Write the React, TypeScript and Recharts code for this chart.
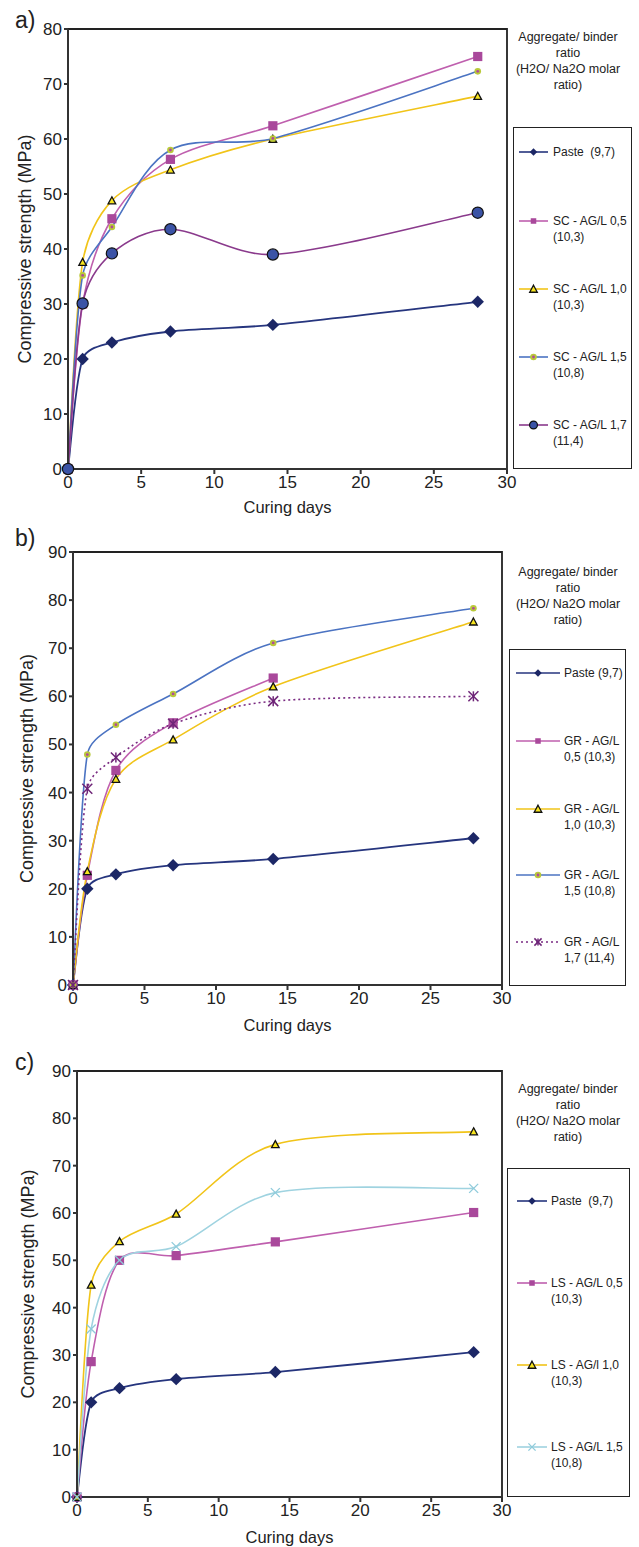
import React from "react";
import { LineChart, Line, XAxis, YAxis, ReferenceArea } from "recharts";

// curing days (shared by every panel)
const days = [0, 1, 3, 7, 14, 28];
const xTicks = [0, 5, 10, 15, 20, 25, 30];
const yTicksA = [0, 10, 20, 30, 40, 50, 60, 70, 80];
const yTicksBC = [0, 10, 20, 30, 40, 50, 60, 70, 80, 90];

// a) SC
const pasteA = [0, 20, 23, 25, 26.2, 30.4];
const sc05 = [0, 30, 45.5, 56.3, 62.4, 75];
const sc10 = [0, 37.6, 48.8, 54.4, 60, 67.8];
const sc15 = [0, 35.2, 44, 58, 60.1, 72.3];
const sc17 = [0, 30.1, 39.2, 43.6, 39, 46.6];

// b) GR
const pasteB = [0, 20, 23, 24.9, 26.2, 30.5];
const gr05 = [0, 22.8, 44.6, 54.5, 63.8, null];
const gr10 = [0, 23.6, 42.8, 51, 62, 75.5];
const gr15 = [0, 47.9, 54.1, 60.5, 71.1, 78.3];
const gr17 = [0, 40.8, 47.3, 54.3, 59, 60];

// c) LS
const pasteC = [0, 20, 23, 24.9, 26.4, 30.6];
const ls05 = [0, 28.6, 50, 51, 53.9, 60.1];
const ls10 = [0, 44.8, 54, 59.8, 74.5, 77.2];
const ls15 = [0, 35.5, 50, 52.9, 64.3, 65.2];

const legendTitle = ["Aggregate/ binder", "ratio", "(H2O/ Na2O molar", "ratio)"];

const FONT = "'Liberation Sans', Arial, Helvetica, sans-serif";
const W = 639;
const TITLE_FONT = 12.5;
const ITEM_FONT = 12;

type Kind = "diamond" | "square" | "triangle" | "smalldot" | "circle" | "star" | "cross";

interface Serie {
  key: string;
  values: (number | null)[];
  label: string[];
  color: string;
  kind: Kind;
  width?: number;
  dash?: string;
}

const NAVY = "#26357e";
const MAGENTA = "#bf5fae";
const YELLOW = "#f1c419";
const BLUE = "#4b73c2";
const PURPLE = "#8a3a8c";
const LIGHTBLUE = "#9fd3e0";

const seriesA: Serie[] = [
  { key: "paste", values: pasteA, label: ["Paste  (9,7)"], color: NAVY, kind: "diamond", width: 1.8 },
  { key: "sc05", values: sc05, label: ["SC - AG/L 0,5", "(10,3)"], color: MAGENTA, kind: "square" },
  { key: "sc10", values: sc10, label: ["SC - AG/L 1,0", "(10,3)"], color: YELLOW, kind: "triangle" },
  { key: "sc15", values: sc15, label: ["SC - AG/L 1,5", "(10,8)"], color: BLUE, kind: "smalldot" },
  { key: "sc17", values: sc17, label: ["SC - AG/L 1,7", "(11,4)"], color: PURPLE, kind: "circle" },
];

const seriesB: Serie[] = [
  { key: "paste", values: pasteB, label: ["Paste (9,7)"], color: NAVY, kind: "diamond", width: 1.8 },
  { key: "gr05", values: gr05, label: ["GR - AG/L", "0,5 (10,3)"], color: MAGENTA, kind: "square" },
  { key: "gr10", values: gr10, label: ["GR - AG/L", "1,0 (10,3)"], color: YELLOW, kind: "triangle" },
  { key: "gr15", values: gr15, label: ["GR - AG/L", "1,5 (10,8)"], color: BLUE, kind: "smalldot" },
  { key: "gr17", values: gr17, label: ["GR - AG/L", "1,7 (11,4)"], color: "#7a2b82", kind: "star", dash: "2 3" },
];

const seriesC: Serie[] = [
  { key: "paste", values: pasteC, label: ["Paste  (9,7)"], color: NAVY, kind: "diamond", width: 1.8 },
  { key: "ls05", values: ls05, label: ["LS - AG/L 0,5", "(10,3)"], color: MAGENTA, kind: "square" },
  { key: "ls10", values: ls10, label: ["LS - AG/l 1,0", "(10,3)"], color: YELLOW, kind: "triangle" },
  { key: "ls15", values: ls15, label: ["LS - AG/L 1,5", "(10,8)"], color: LIGHTBLUE, kind: "cross" },
];

// smoothed line like the spreadsheet one: Catmull-Rom through the points,
// with the control arms kept shorter than the segment they sit on
const ARM_LIMIT = 0.35;
const smoothCurve = (context: any) => {
  let pts: number[][] = [];
  const arm = (dx: number, dy: number, segLen: number) => {
    const len = Math.hypot(dx, dy);
    const max = segLen * ARM_LIMIT;
    if (len <= max || len === 0) return [dx, dy];
    return [(dx * max) / len, (dy * max) / len];
  };
  return {
    areaStart() {},
    areaEnd() {},
    lineStart() {
      pts = [];
    },
    point(x: number, y: number) {
      pts.push([+x, +y]);
    },
    lineEnd() {
      const n = pts.length;
      if (!n) return;
      context.moveTo(pts[0][0], pts[0][1]);
      for (let i = 0; i < n - 1; i++) {
        const p0 = pts[Math.max(0, i - 1)];
        const p1 = pts[i];
        const p2 = pts[i + 1];
        const p3 = pts[Math.min(n - 1, i + 2)];
        const seg = Math.hypot(p2[0] - p1[0], p2[1] - p1[1]);
        const a1 = arm((p2[0] - p0[0]) / 6, (p2[1] - p0[1]) / 6, seg);
        const a2 = arm((p3[0] - p1[0]) / 6, (p3[1] - p1[1]) / 6, seg);
        context.bezierCurveTo(p1[0] + a1[0], p1[1] + a1[1], p2[0] - a2[0], p2[1] - a2[1], p2[0], p2[1]);
      }
    },
  };
};

function Marker({ kind, cx, cy, legend }: { kind: Kind; cx: number; cy: number; legend?: boolean }) {
  const s = legend ? 0.6 : 1;
  switch (kind) {
    case "diamond": {
      const r = 6.2 * s;
      return <polygon points={`${cx},${cy - r} ${cx + r},${cy} ${cx},${cy + r} ${cx - r},${cy}`} fill="#1c2766" />;
    }
    case "square": {
      const r = 4.6 * s;
      return <rect x={cx - r} y={cy - r} width={2 * r} height={2 * r} fill="#a9489b" />;
    }
    case "triangle": {
      const r = 3.8;
      return (
        <polygon
          points={`${cx},${cy - r} ${cx + r},${cy + r * 0.85} ${cx - r},${cy + r * 0.85}`}
          fill="#f7e51e"
          stroke="#111"
          strokeWidth={1.3}
        />
      );
    }
    case "smalldot":
      return (
        <g>
          <circle cx={cx} cy={cy} r={3.3} fill="#b9c93a" />
          <circle cx={cx} cy={cy} r={1.4} fill="#b04a9a" />
        </g>
      );
    case "circle":
      return <circle cx={cx} cy={cy} r={5.6 * (legend ? 0.7 : 1)} fill="#3b53a6" stroke="#111" strokeWidth={1.2} />;
    case "star": {
      const r = legend ? 3.6 : 5;
      return (
        <g stroke="#6e2477" strokeWidth={1.5}>
          <line x1={cx - r} y1={cy - r} x2={cx + r} y2={cy + r} />
          <line x1={cx - r} y1={cy + r} x2={cx + r} y2={cy - r} />
          <line x1={cx} y1={cy - r} x2={cx} y2={cy + r} />
        </g>
      );
    }
    case "cross": {
      const r = legend ? 3.6 : 4.5;
      return (
        <g stroke="#8fcbdb" strokeWidth={1.3}>
          <line x1={cx - r} y1={cy - r} x2={cx + r} y2={cy + r} />
          <line x1={cx - r} y1={cy + r} x2={cx + r} y2={cy - r} />
        </g>
      );
    }
  }
  return null;
}

interface PanelGeom {
  letter: string;
  top: number;
  height: number;
  plotTop: number;
  plotBottom: number;
  plotLeft: number;
  plotRight: number;
  yMax: number;
  yTicks: number[];
  xLabelBase: number;
  yLabelX: number;
  letterY: number;
  titleTop: number;
  box: { l: number; t: number; r: number; b: number };
  items: number[];
  lineX1: number;
  lineX2: number;
  textX: number;
}

const geomA: PanelGeom = {
  letter: "a)", top: 0, height: 520, plotTop: 29, plotBottom: 469, plotLeft: 68, plotRight: 507,
  yMax: 80, yTicks: yTicksA, xLabelBase: 513, yLabelX: 25, letterY: 20, titleTop: 29,
  box: { l: 513, t: 127, r: 632, b: 469 }, items: [152, 221, 289, 357, 425], lineX1: 519, lineX2: 548, textX: 553,
};
const geomB: PanelGeom = {
  letter: "b)", top: 520, height: 520, plotTop: 552, plotBottom: 985, plotLeft: 73, plotRight: 502,
  yMax: 90, yTicks: yTicksBC, xLabelBase: 1031, yLabelX: 27, letterY: 538, titleTop: 564,
  box: { l: 509, t: 649, r: 626, b: 986 }, items: [673, 741, 809, 875, 942], lineX1: 516, lineX2: 560, textX: 564,
};
const geomC: PanelGeom = {
  letter: "c)", top: 1040, height: 507, plotTop: 1071, plotBottom: 1497, plotLeft: 77, plotRight: 502,
  yMax: 90, yTicks: yTicksBC, xLabelBase: 1543, yLabelX: 28, letterY: 1062, titleTop: 1081,
  box: { l: 507, t: 1168, r: 630, b: 1497 }, items: [1201, 1283, 1365, 1447], lineX1: 517, lineX2: 547, textX: 551,
};

const Y_AXIS_W = 46;

function LegendBlock({ g, series }: { g: PanelGeom; series: Serie[] }) {
  return (
    <>
      <div
        style={{
          position: "absolute",
          left: 568 - 80,
          top: g.titleTop,
          width: 160,
          textAlign: "center",
          fontSize: TITLE_FONT,
          lineHeight: "16px",
          color: "#222",
        }}
      >
        {legendTitle.map((t) => (
          <div key={t}>{t}</div>
        ))}
      </div>
      <div
        style={{
          position: "absolute",
          left: g.box.l,
          top: g.box.t,
          width: g.box.r - g.box.l,
          height: g.box.b - g.box.t,
          border: "1.5px solid #222",
          boxSizing: "border-box",
        }}
      />
      {series.map((s, i) => {
        const y = g.items[i];
        return (
          <React.Fragment key={s.key}>
            <svg
              style={{ position: "absolute", left: g.lineX1, top: y - 8, overflow: "visible" }}
              width={g.lineX2 - g.lineX1}
              height={16}
            >
              <line x1={0} y1={8} x2={g.lineX2 - g.lineX1} y2={8} stroke={s.color} strokeWidth={1.6} strokeDasharray={s.dash} />
              <Marker kind={s.kind} cx={(g.lineX2 - g.lineX1) / 2} cy={8} legend />
            </svg>
            <div
              style={{
                position: "absolute",
                left: g.textX,
                top: y - 8,
                fontSize: ITEM_FONT,
                lineHeight: "16px",
                color: "#222",
                whiteSpace: "pre",
              }}
            >
              {s.label.map((t) => (
                <div key={t}>{t}</div>
              ))}
            </div>
          </React.Fragment>
        );
      })}
    </>
  );
}

function Panel({ g, series }: { g: PanelGeom; series: Serie[] }) {
  const data = days.map((d, i) => {
    const row: Record<string, number | null> = { day: d };
    series.forEach((s) => {
      row[s.key] = s.values[i];
    });
    return row;
  });
  const xAxisH = g.xLabelBase - g.plotBottom;
  const margin = {
    top: g.plotTop - g.top,
    right: W - g.plotRight,
    left: g.plotLeft - Y_AXIS_W,
    bottom: g.top + g.height - g.xLabelBase,
  };
  const tickStyle = { fontSize: 17, fill: "#222", fontFamily: FONT };
  return (
    <>
      <div
        style={{
          position: "absolute",
          left: 15,
          top: g.letterY - 13,
          fontSize: 23,
          lineHeight: "26px",
          color: "#222",
        }}
      >
        {g.letter}
      </div>
      <div style={{ position: "absolute", left: 0, top: g.top }}>
        <LineChart width={W} height={g.height} data={data} margin={margin}>
          <ReferenceArea x1={0} x2={30} y1={0} y2={g.yMax} fill="none" stroke="#222" strokeWidth={1.8} />
          <XAxis
            dataKey="day"
            type="number"
            domain={[0, 30]}
            ticks={xTicks}
            interval={0}
            height={xAxisH}
            tickSize={5}
            tickMargin={2}
            stroke="#333"
            strokeWidth={2}
            tick={tickStyle}
            label={{ value: "Curing days", position: "insideBottom", offset: 0, fontSize: 16.5, fill: "#222", fontFamily: FONT }}
          />
          <YAxis
            type="number"
            domain={[0, g.yMax]}
            ticks={g.yTicks}
            interval={0}
            width={Y_AXIS_W}
            tickSize={4}
            tickMargin={2}
            stroke="#333"
            strokeWidth={2}
            tick={tickStyle}
            label={{
              value: "Compressive strength (MPa)",
              angle: -90,
              position: "insideLeft",
              offset: g.yLabelX - g.plotLeft + Y_AXIS_W,
              fontSize: 18,
              fill: "#222",
              fontFamily: FONT,
              style: { textAnchor: "middle" },
            }}
          />
          {series.map((s) => (
            <Line
              key={s.key}
              dataKey={s.key}
              type={smoothCurve as any}
              stroke={s.color}
              strokeWidth={s.width ?? 1.6}
              strokeDasharray={s.dash}
              isAnimationActive={false}
              activeDot={false}
              dot={(p: any) => {
                if (p.cx == null || p.cy == null || p.value == null) return <g key={p.key ?? p.index} />;
                return (
                  <g key={p.key ?? `${s.key}-${p.index}`}>
                    <Marker kind={s.kind} cx={p.cx} cy={p.cy} />
                  </g>
                );
              }}
            />
          ))}
        </LineChart>
      </div>
      <LegendBlock g={g} series={series} />
    </>
  );
}

export default function App() {
  return (
    <div
      style={{
        position: "absolute",
        left: 0,
        top: 0,
        width: W,
        height: 1547,
        background: "#fff",
        fontFamily: FONT,
        overflow: "hidden",
      }}
    >
      <Panel g={geomA} series={seriesA} />
      <Panel g={geomB} series={seriesB} />
      <Panel g={geomC} series={seriesC} />
    </div>
  );
}
